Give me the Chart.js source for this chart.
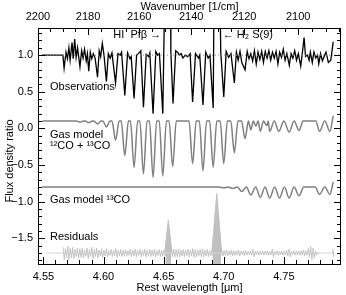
<!DOCTYPE html>
<html>
<head>
<meta charset="utf-8">
<script src="https://cdn.jsdelivr.net/npm/chart.js@4.4.1/dist/chart.umd.min.js"></script>
<style>
  html, body { margin: 0; padding: 0; background: #fff; }
  canvas { display: block; }
</style>
</head>
<body>
<canvas id="chart" width="346" height="295"></canvas>
<script>
// ---------------------------------------------------------------------------
// Data
// ---------------------------------------------------------------------------
const X_MIN = 4.5455, X_MAX = 4.7975;   // rest wavelength [um]
const Y_MIN = -1.85, Y_MAX = 1.37;

const xTicks = [4.55, 4.60, 4.65, 4.70, 4.75];
const wnTicks = [2200, 2180, 2160, 2140, 2120, 2100];   // wavenumber [1/cm]
const yTicks = [-1.5, -1.0, -0.5, 0.0, 0.5, 1.0];

// observed spectrum, normalised
const obsWave = [4.5490, 4.5662, 4.5672, 4.5688, 4.5700, 4.5712, 4.5722, 4.5738, 4.5748, 4.5760,
  4.5772, 4.5784, 4.5804, 4.5818, 4.5830, 4.5842, 4.5856, 4.5866, 4.5877, 4.5890,
  4.5902, 4.5915, 4.5930, 4.5950, 4.5964, 4.5976, 4.5990, 4.6004, 4.6024, 4.6040,
  4.6055, 4.6070, 4.6100, 4.6120, 4.6140, 4.6150, 4.6177, 4.6200, 4.6220, 4.6230,
  4.6254, 4.6275, 4.6290, 4.6310, 4.6332, 4.6355, 4.6375, 4.6385, 4.6412, 4.6435,
  4.6450, 4.6465, 4.6493, 4.6515, 4.6555, 4.6560, 4.6578, 4.6600, 4.6615, 4.6630,
  4.6645, 4.6660, 4.6680, 4.6700, 4.6720, 4.6741, 4.6765, 4.6790, 4.6800, 4.6827,
  4.6850, 4.6870, 4.6885, 4.6912, 4.6922, 4.6962, 4.6975, 4.7000, 4.7020, 4.7040,
  4.7060, 4.7088, 4.7105, 4.7120, 4.7135, 4.7150, 4.7177, 4.7195, 4.7210, 4.7225,
  4.7240, 4.7255, 4.7270, 4.7285, 4.7300, 4.7315, 4.7330, 4.7345, 4.7360, 4.7375,
  4.7390, 4.7405, 4.7420, 4.7435, 4.7450, 4.7465, 4.7480, 4.7495, 4.7510, 4.7525,
  4.7545, 4.7560, 4.7575, 4.7590, 4.7605, 4.7620, 4.7640, 4.7655, 4.7668, 4.7680,
  4.7695, 4.7710, 4.7720, 4.7736, 4.7750, 4.7765, 4.7780, 4.7790, 4.7805, 4.7820,
  4.7850, 4.7870, 4.7890, 4.7910];
const obsFlux = [1.00, 1.00, 0.82, 1.04, 0.95, 1.10, 0.93, 1.17, 0.95, 1.22,
  0.97, 1.10, 0.84, 1.06, 0.96, 1.08, 0.92, 1.02, 0.78, 1.04,
  0.95, 1.02, 0.96, 0.70, 1.06, 0.98, 1.16, 1.00, 0.64, 1.02,
  0.96, 1.03, 0.62, 1.02, 1.00, 1.04, 0.45, 1.03, 0.95, 0.98,
  0.41, 1.00, 1.02, 1.06, 0.29, 1.01, 0.98, 1.03, 0.20, 1.05,
  1.00, 1.02, 0.20, 2.50, 2.50, 1.04, 0.34, 1.06, 1.04, 1.00,
  1.02, 0.96, 1.00, 0.98, 1.02, 0.36, 1.02, 0.96, 1.00, 0.32,
  1.04, 0.96, 1.00, 0.28, 2.50, 2.50, 1.04, 0.43, 1.05, 0.97,
  1.02, 0.62, 1.04, 0.93, 1.05, 0.90, 0.80, 1.05, 0.95, 1.02,
  0.92, 1.06, 0.88, 1.04, 0.94, 1.05, 0.90, 1.05, 0.96, 1.06,
  0.93, 1.04, 0.96, 1.05, 0.88, 1.04, 0.97, 1.08, 0.93, 1.02,
  0.86, 1.02, 0.96, 1.06, 0.93, 1.02, 0.85, 1.05, 1.24, 0.98,
  1.00, 0.93, 1.04, 0.90, 1.04, 0.96, 1.00, 0.88, 1.02, 0.92,
  1.04, 0.90, 0.93, 1.18];

// gas model, 12CO + 13CO (offset continuum 0.1)
const mixWave = [4.5490,
  4.5774, 4.5804, 4.5834, 4.5847, 4.5877, 4.5907, 4.5920, 4.5950, 4.5980,
  4.5994, 4.6024, 4.6054, 4.6070, 4.6100, 4.6130, 4.6147, 4.6177, 4.6207,
  4.6224, 4.6254, 4.6284, 4.6302, 4.6332, 4.6362, 4.6382, 4.6412, 4.6442,
  4.6463, 4.6493, 4.6523, 4.6545, 4.6575, 4.6605, 4.6711, 4.6741, 4.6771,
  4.6797, 4.6827, 4.6857, 4.6882, 4.6912, 4.6942, 4.6970, 4.7000, 4.7030,
  4.7058, 4.7088, 4.7118, 4.7147, 4.7177, 4.7205,
  4.7225, 4.7246, 4.7267, 4.7285, 4.7304, 4.7330, 4.7359, 4.7370, 4.7382,
  4.7420, 4.7458, 4.7500, 4.7544, 4.7585, 4.7626, 4.7660, 4.7766, 4.7796,
  4.7840, 4.7883, 4.7910];
const mixFlux = [0.10,
  0.10, 0.085, 0.10, 0.10, 0.08, 0.10, 0.10, 0.06, 0.10,
  0.10, 0.02, 0.10, 0.10, -0.16, 0.10, 0.10, -0.37, 0.10,
  0.10, -0.53, 0.10, 0.10, -0.62, 0.10, 0.10, -0.67, 0.10,
  0.10, -0.65, 0.10, 0.10, -0.52, 0.10, 0.10, -0.48, 0.10,
  0.10, -0.58, 0.10, 0.10, -0.53, 0.10, 0.10, -0.48, 0.10,
  0.10, -0.33, 0.10, 0.10, -0.14, 0.10,
  -0.02, 0.10, 0.03, 0.10, -0.04, 0.10, 0.04, 0.10, -0.04,
  0.10, -0.04, 0.10, -0.05, 0.10, -0.03, 0.10, 0.10, -0.04,
  0.10, -0.04, 0.17];

// gas model, 13CO only (offset continuum -0.8)
const c13Wave = [4.5490, 4.6960, 4.6999, 4.7037, 4.7075, 4.7112, 4.7150, 4.7188, 4.7225, 4.7265,
  4.7304, 4.7343, 4.7382, 4.7423, 4.7464, 4.7504, 4.7544, 4.7585, 4.7626, 4.7665,
  4.7760, 4.7796, 4.7840, 4.7883, 4.7910];
const c13Flux = [-0.80, -0.80, -0.81, -0.80, -0.82, -0.80, -0.86, -0.80, -0.91, -0.80,
  -0.94, -0.80, -0.95, -0.80, -0.95, -0.80, -0.95, -0.80, -0.92, -0.80,
  -0.80, -0.90, -0.80, -0.90, -0.73];

// residuals (offset -1.7): upper and lower envelope of the noise on a regular grid
const resStart = 4.5663, resStep = 0.002;
const resHi = [-1.62, -1.64, -1.61, -1.63, -1.62, -1.65, -1.63,
  -1.64, -1.63, -1.66, -1.63, -1.65,
  -1.62, -1.65, -1.63, -1.66, -1.64,
  -1.66, -1.64, -1.665, -1.65, -1.66,
  -1.64, -1.66, -1.65, -1.66, -1.655,
  -1.665, -1.65, -1.66, -1.645, -1.665,
  -1.65, -1.66, -1.645, -1.66, -1.65,
  -1.66, -1.645, -1.665, -1.65, -1.66,
  -1.66, -1.66, -1.655, -1.65, -1.645,
  -1.65, -1.645, -1.66, -1.65, -1.66,
  -1.645, -1.66, -1.64, -1.65, -1.66,
  -1.65, -1.645, -1.66, -1.65, -1.66,
  -1.66, -1.66, -1.66, -1.65, -1.66,
  -1.665, -1.66, -1.67, -1.66, -1.665,
  -1.67, -1.66, -1.675, -1.665, -1.67,
  -1.675, -1.67, -1.645, -1.675, -1.67,
  -1.675, -1.67, -1.675, -1.67, -1.675,
  -1.645, -1.675, -1.67, -1.675, -1.67,
  -1.675, -1.66, -1.645, -1.675, -1.67,
  -1.675, -1.67, -1.67, -1.66, -1.67,
  -1.64, -1.61, -1.63, -1.67, -1.69];
const resLo = [-1.79, -1.76, -1.79, -1.77, -1.78, -1.75, -1.77,
  -1.76, -1.77, -1.74, -1.78, -1.75,
  -1.78, -1.75, -1.77, -1.74, -1.76,
  -1.74, -1.76, -1.735, -1.75, -1.74,
  -1.76, -1.74, -1.75, -1.74, -1.745,
  -1.735, -1.75, -1.74, -1.755, -1.735,
  -1.75, -1.74, -1.755, -1.74, -1.75,
  -1.74, -1.755, -1.735, -1.75, -1.74,
  -1.74, -1.74, -1.745, -1.75, -1.755,
  -1.75, -1.755, -1.74, -1.75, -1.74,
  -1.755, -1.74, -1.76, -1.75, -1.74,
  -1.75, -1.755, -1.74, -1.75, -1.74,
  -1.74, -1.74, -1.74, -1.75, -1.74,
  -1.735, -1.74, -1.73, -1.74, -1.735,
  -1.73, -1.74, -1.725, -1.735, -1.73,
  -1.725, -1.73, -1.755, -1.725, -1.73,
  -1.725, -1.73, -1.725, -1.73, -1.725,
  -1.755, -1.725, -1.73, -1.725, -1.73,
  -1.725, -1.74, -1.755, -1.725, -1.73,
  -1.725, -1.73, -1.73, -1.74, -1.73,
  -1.76, -1.79, -1.77, -1.73, -1.71];
// small residual feature at the red end
const resEndWave = [4.7903, 4.7908, 4.7912, 4.7917];
const resEndFlux = [-1.70, -1.65, -1.75, -1.70];
// residual spikes at HI Pf beta and H2 S(9): upper peak and the part running off the bottom
const pfbWave = [4.6509, 4.6539, 4.6570];
const pfbFlux = [-1.70, -1.25, -1.70];
const pfbLowWave = [4.6515, 4.6563];
const h2Wave = [4.6900, 4.6942, 4.6983];
const h2Flux = [-1.70, -0.89, -1.70];
const h2LowWave = [4.6906, 4.6977];

// labels inside the plot: text, wavelength, flux, alignment
const labelText = ["Observations", "Gas model", "\u00b9\u00b2CO + \u00b9\u00b3CO", "Gas model \u00b9\u00b3CO",
  "Residuals", "HI  Pf\u03b2 \u2192", "\u2190 H\u2082 S(9)"];
const labelX = [4.5555, 4.5555, 4.5555, 4.5555, 4.5555, 4.6480, 4.6992];
const labelY = [0.565, -0.09, -0.24, -0.98, -1.48, 1.27, 1.27];
const labelAlign = ["left", "left", "left", "left", "left", "right", "left"];

// ---------------------------------------------------------------------------
// Build series
// ---------------------------------------------------------------------------
const pts = (xs, ys) => xs.map((x, i) => ({ x, y: ys[i] }));
// noise band: alternate upper / lower envelope, half a grid step apart
const resPts = [];
resHi.forEach((hi, i) => {
  const x = resStart + i * resStep;
  resPts.push({ x, y: hi }, { x: x + resStep / 2, y: resLo[i] });
});
const lowBlock = xs => xs.map(x => ({ x, y: -2.5 }));

const FONT = "'Liberation Sans', Arial, sans-serif";
const fmt = v => v.toFixed(1).replace("-", "\u2212");
const RES_GREY = "#c0c0c0";

// inward ticks on all four sides + frame + text labels, IDL style
const frameAndLabels = {
  id: "frameAndLabels",
  afterDatasetsDraw(chart) {
    const { ctx, chartArea: a, scales } = chart;
    const xs = scales.x, ys = scales.y;
    ctx.save();
    ctx.strokeStyle = "#000";
    ctx.lineWidth = 1;
    ctx.strokeRect(Math.round(a.left) + 0.5, Math.round(a.top) + 0.5,
      Math.round(a.right - a.left) - 1, Math.round(a.bottom - a.top));
    const line = (x1, y1, x2, y2) => { ctx.beginPath(); ctx.moveTo(x1, y1); ctx.lineTo(x2, y2); ctx.stroke(); };

    // bottom: 0.01 minor, 0.05 major
    for (let k = 454; k <= 480; k++) {
      const v = k / 100;
      if (v < X_MIN || v > X_MAX) continue;
      const px = Math.round(xs.getPixelForValue(v)) + 0.5;
      line(px, a.bottom, px, a.bottom - (k % 5 === 0 ? 7 : 4));
    }
    // top: wavenumber, 5 minor, 20 major
    for (let wn = 2200; wn >= 2080; wn -= 5) {
      const v = 1e4 / wn;
      if (v < X_MIN - 1e-6 || v > X_MAX) continue;
      const px = Math.round(xs.getPixelForValue(v)) + 0.5;
      line(px, a.top, px, a.top + (wn % 20 === 0 ? 7 : 4));
    }
    // left / right: 0.1 minor, 0.5 major
    for (let k = -18; k <= 13; k++) {
      const v = k / 10;
      const py = Math.round(ys.getPixelForValue(v)) + 0.5;
      const len = k % 5 === 0 ? 7 : 4;
      line(a.left, py, a.left + len, py);
      line(a.right, py, a.right - len, py);
    }

    // axis titles
    ctx.fillStyle = "#000";
    ctx.font = "11px " + FONT;
    ctx.textAlign = "center";
    ctx.textBaseline = "middle";
    ctx.fillText("Rest wavelength [\u03bcm]", (a.left + a.right) / 2, 288);
    ctx.fillText("Wavenumber [1/cm]", (a.left + a.right) / 2, 7);
    ctx.save();
    ctx.translate(10, 161);
    ctx.rotate(-Math.PI / 2);
    ctx.fillText("Flux density ratio", 0, 0);
    ctx.restore();

    // in-plot labels
    ctx.textBaseline = "middle";
    labelText.forEach((t, i) => {
      ctx.textAlign = labelAlign[i];
      ctx.fillText(t, xs.getPixelForValue(labelX[i]), ys.getPixelForValue(labelY[i]));
    });
    ctx.restore();
  }
};

const lineDs = (data, color, width, extra) => Object.assign({
  data, borderColor: color, borderWidth: width, pointRadius: 0, fill: false, tension: 0
}, extra || {});
const resFill = { fill: { value: -1.7 }, backgroundColor: RES_GREY };

new Chart(document.getElementById("chart"), {
  type: "line",
  data: {
    datasets: [
      lineDs([{ x: X_MIN, y: 1 }, { x: X_MAX, y: 1 }], "#888", 1, { borderDash: [1, 2] }),
      lineDs([{ x: 4.5527, y: -1.7 }, { x: 4.7910, y: -1.7 }], "#d4d4d4", 1),
      lineDs(resPts, RES_GREY, 0.8, resFill),
      lineDs(pts(resEndWave, resEndFlux), RES_GREY, 0.8, resFill),
      lineDs(pts(pfbWave, pfbFlux), RES_GREY, 1, resFill),
      lineDs(lowBlock(pfbLowWave), RES_GREY, 1, resFill),
      lineDs(pts(h2Wave, h2Flux), RES_GREY, 1, resFill),
      lineDs(lowBlock(h2LowWave), RES_GREY, 1, resFill),
      lineDs(pts(c13Wave, c13Flux), "#808080", 1.5, { cubicInterpolationMode: "monotone" }),
      lineDs(pts(mixWave, mixFlux), "#808080", 1.5, { cubicInterpolationMode: "monotone" }),
      lineDs(pts(obsWave, obsFlux), "#000", 1.3)
    ]
  },
  options: {
    responsive: false,
    animation: false,
    events: [],
    layout: { padding: { right: 5 } },
    plugins: { legend: { display: false }, tooltip: { enabled: false } },
    scales: {
      x: {
        type: "linear", position: "bottom", min: X_MIN, max: X_MAX,
        afterBuildTicks: s => { s.ticks = xTicks.map(value => ({ value })); },
        afterFit: s => { s.height = 31; },
        grid: { display: false, drawTicks: false }, border: { display: false },
        ticks: { padding: 6, color: "#000", font: { family: FONT, size: 11 }, maxRotation: 0,
          callback: v => v.toFixed(2) }
      },
      x2: {
        type: "linear", position: "top", min: X_MIN, max: X_MAX,
        afterBuildTicks: s => { s.ticks = wnTicks.map(w => ({ value: 1e4 / w })); },
        afterFit: s => { s.height = 28; },
        grid: { display: false, drawTicks: false }, border: { display: false },
        ticks: { padding: 4, color: "#000", font: { family: FONT, size: 11 }, maxRotation: 0,
          callback: v => String(Math.round(1e4 / v)) }
      },
      y: {
        type: "linear", min: Y_MIN, max: Y_MAX,
        afterBuildTicks: s => { s.ticks = yTicks.map(value => ({ value })); },
        afterFit: s => { s.width = 38; },
        grid: { display: false, drawTicks: false }, border: { display: false },
        ticks: { padding: 5, color: "#000", font: { family: FONT, size: 11 }, callback: fmt }
      }
    }
  },
  plugins: [frameAndLabels]
});
</script>
</body>
</html>
